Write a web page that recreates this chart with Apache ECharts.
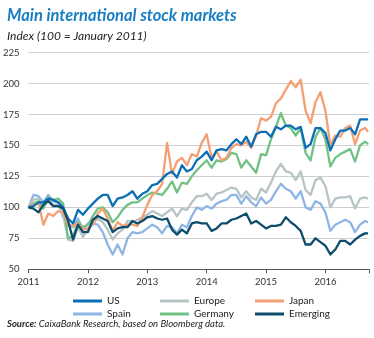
<!DOCTYPE html>
<html>
<head>
<meta charset="utf-8">
<script src="https://cdn.jsdelivr.net/npm/echarts@6/dist/echarts.min.js"></script>
<style>
html,body{margin:0;padding:0;background:#fff;}
#chart{width:374px;height:338px;}
</style>
</head>
<body>
<div id="chart"></div>
<script>
// Monthly observation dates (first of month) plus the final observation
const dates = [];
for (let y = 2011; y <= 2016; y++) {
  for (let m = 1; m <= 12; m++) {
    if (y < 2016 || m <= 9) dates.push(y + '-' + String(m).padStart(2, '0') + '-01');
  }
}
dates.push('2016-09-20');

const yearTicks = ['2011', '2012', '2013', '2014', '2015', '2016'];

const us = [
  100, 101, 104, 104, 107, 106, 104, 100, 91, 87, 98, 94,
  99, 103, 107, 110, 110, 101, 107, 108, 110, 113, 107, 111,
  113, 118, 119, 123, 127, 129, 124, 134, 129, 131, 138, 141,
  145, 138, 146, 147, 146, 151, 155, 151, 157, 149, 159, 161,
  161, 157, 165, 163, 166, 166, 163, 165, 148, 151, 164, 164,
  160, 146, 155, 162, 162, 164, 159, 171, 171, 171
];
const europe = [
  100, 106, 107, 101, 107, 102, 102, 94, 74, 73, 84, 76,
  83, 87, 91, 88, 82, 74, 79, 82, 89, 88, 90, 92,
  94, 97, 95, 93, 96, 99, 93, 99, 98, 104, 109, 109,
  111, 106, 111, 112, 114, 116, 115, 108, 113, 108, 106, 115,
  112, 120, 129, 135, 129, 128, 122, 129, 114, 110, 122, 124,
  117, 100, 107, 108, 108, 109, 99, 107, 108, 107
];
const japan = [
  100, 102, 104, 86, 95, 93, 97, 96, 86, 85, 87, 82,
  83, 86, 95, 99, 91, 81, 88, 85, 86, 86, 85, 92,
  102, 110, 113, 119, 152, 127, 137, 140, 134, 143, 141, 152,
  159, 140, 145, 138, 140, 148, 151, 150, 153, 148, 158, 172,
  170, 173, 184, 188, 195, 202, 197, 203, 178, 168, 185, 193,
  178, 150, 158, 157, 164, 166, 151, 162, 164, 161
];
const spain = [
  100, 110, 109, 104, 110, 105, 104, 92, 85, 84, 91, 82,
  87, 87, 86, 80, 70, 62, 70, 62, 75, 80, 79, 80,
  83, 86, 84, 79, 85, 84, 79, 86, 84, 93, 100, 98,
  101, 99, 103, 105, 106, 110, 110, 103, 109, 104, 101, 108,
  103, 106, 113, 119, 115, 113, 107, 113, 100, 98, 105, 103,
  96, 81, 86, 88, 90, 88, 80, 86, 89, 88
];
const germany = [
  100, 103, 105, 99, 108, 106, 107, 103, 75, 77, 88, 84,
  86, 93, 99, 100, 96, 88, 92, 98, 102, 104, 104, 107,
  110, 112, 111, 110, 115, 121, 112, 120, 119, 125, 130, 134,
  138, 132, 138, 137, 139, 144, 143, 132, 138, 133, 128, 143,
  142, 155, 165, 176, 166, 164, 158, 164, 144, 138, 157, 164,
  155, 133, 140, 143, 145, 147, 137, 150, 153, 151
];
const emerging = [
  100, 99, 96, 102, 105, 101, 101, 99, 89, 74, 86, 80,
  80, 90, 93, 91, 89, 80, 83, 84, 84, 89, 87, 89,
  92, 93, 91, 90, 91, 82, 78, 82, 79, 87, 88, 87,
  87, 81, 83, 87, 87, 90, 91, 93, 95, 87, 89, 86,
  83, 85, 85, 86, 92, 88, 85, 81, 70, 70, 75, 72,
  69, 62, 66, 73, 73, 70, 74, 77, 79, 79
];

function toYear(d) {
  const p = d.split('-').map(Number);
  return p[0] + (p[1] - 1) / 12 + (p[2] - 1) / 365;
}
const xs = dates.map(toYear);
function pairs(vals) { return vals.map((v, i) => [xs[i], v]); }

const FONT = 'Lato';
const chart = echarts.init(document.getElementById('chart'), null, {renderer: 'canvas'});

function mk(name, vals, color, z) {
  return {
    name: name, type: 'line', data: pairs(vals), showSymbol: false, symbol: 'none',
    z: z, lineStyle: {width: 2.3, color: color, join: 'round'}, itemStyle: {color: color},
    emphasis: {disabled: true}
  };
}

const legendText = {fontFamily: FONT, fontSize: 10, color: '#222', lineHeight: 12};
function lg(left, names) {
  return {
    left: left, top: 290, orient: 'vertical', itemGap: 1, icon: 'rect',
    itemWidth: 29, itemHeight: 3, textStyle: legendText, data: names, selectedMode: false
  };
}

chart.setOption({
  animation: false,
  backgroundColor: '#ffffff',
  title: [
    {text: 'Main international stock markets', left: 2, top: 2,
     textStyle: {fontFamily: FONT, fontSize: 16.5, fontWeight: 'bold', fontStyle: 'italic', color: '#1a7ec3'}},
    {text: 'Index (100 = January 2011)', left: 2, top: 25,
     textStyle: {fontFamily: FONT, fontSize: 12, fontWeight: 'normal', fontStyle: 'italic', color: '#222'}},
    {text: '{b|Source:} CaixaBank Research, based on Bloomberg data.', left: 2, top: 314,
     textStyle: {fontFamily: FONT, fontSize: 9.5, fontWeight: 'normal', fontStyle: 'italic', color: '#222',
       rich: {b: {fontFamily: FONT, fontSize: 9.5, fontWeight: 'bold', fontStyle: 'italic', color: '#222'}}}}
  ],
  legend: [
    lg(68, ['US', 'Spain']),
    lg(155, ['Europe', 'Germany']),
    lg(250, ['Japan', 'Emerging'])
  ],
  grid: {left: 28.5, right: 5, top: 52.5, bottom: 68.7, containLabel: false},
  xAxis: {
    type: 'value', min: 2011, max: 2016.734, interval: 1,
    axisLine: {show: true, lineStyle: {color: '#555', width: 1}},
    axisTick: {show: true, length: 4, lineStyle: {color: '#555'}},
    axisLabel: {margin: 8, fontFamily: FONT, fontSize: 9.5, color: '#333',
      formatter: v => yearTicks[Math.round(v) - 2011] || ''},
    splitLine: {show: false}
  },
  yAxis: {
    type: 'value', min: 50, max: 225, interval: 25,
    axisLine: {show: false}, axisTick: {show: false},
    axisLabel: {margin: 9, fontFamily: FONT, fontSize: 9.5, color: '#333'},
    splitLine: {lineStyle: {color: '#cfcfcf', width: 1}}
  },
  series: [
    mk('Spain', spain, '#8fb5e3', 2),
    mk('Europe', europe, '#b7c4c6', 3),
    mk('Germany', germany, '#70c184', 4),
    mk('Japan', japan, '#f59f74', 5),
    mk('US', us, '#0b6fb7', 6),
    mk('Emerging', emerging, '#0d4d6b', 7)
  ]
});
</script>
</body>
</html>
